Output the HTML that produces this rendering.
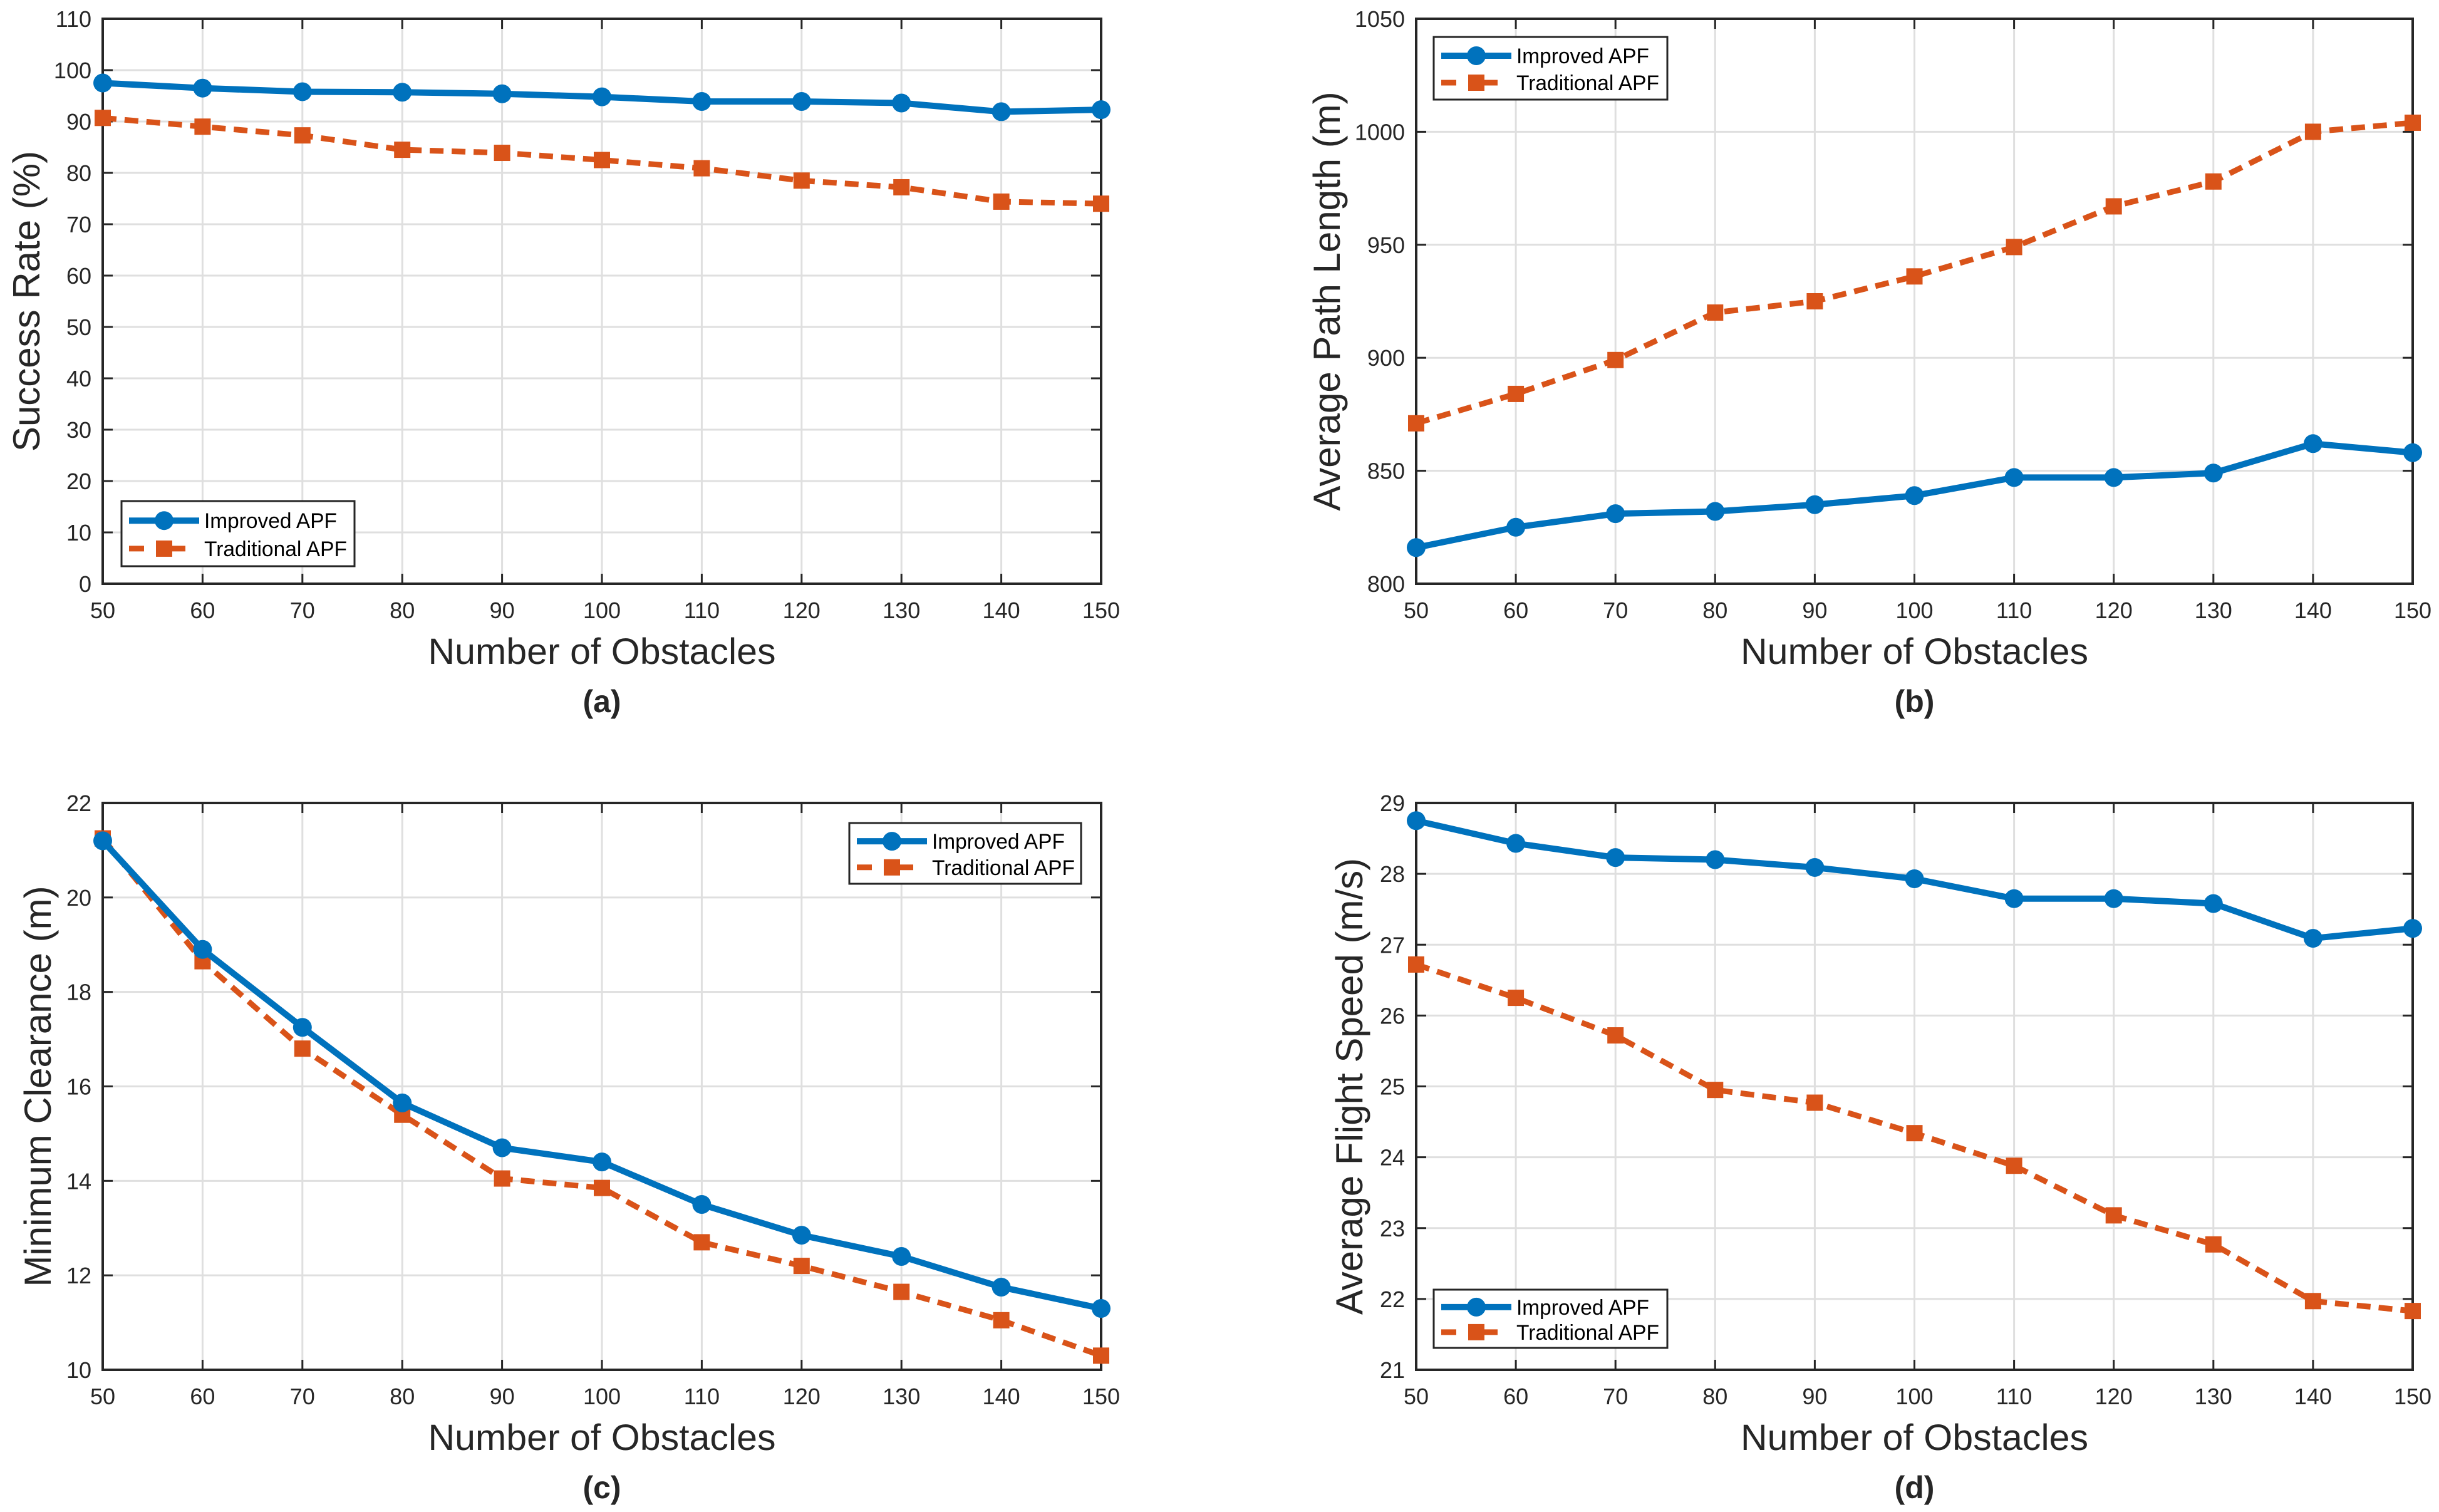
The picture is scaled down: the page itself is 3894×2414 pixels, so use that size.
<!DOCTYPE html>
<html><head><meta charset="utf-8"><style>
html,body{margin:0;padding:0;background:#fff;}
svg{display:block;font-family:"Liberation Sans",Arial,sans-serif;}
</style></head><body>
<svg id="fig" width="3894" height="2414" viewBox="0 0 3894 2414" xmlns="http://www.w3.org/2000/svg"></svg>
<script>
const categories = [50,60,70,80,90,100,110,120,130,140,150];
const seriesNames = ["Improved APF","Traditional APF"];
const aImproved = [97.5,96.5,95.8,95.7,95.4,94.8,93.9,93.9,93.6,91.9,92.3];
const aTraditional = [90.7,89.0,87.3,84.5,83.9,82.5,80.9,78.5,77.2,74.4,74.0];
const aTicks = [0,10,20,30,40,50,60,70,80,90,100,110];
const bImproved = [816,825,831,832,835,839,847,847,849,862,858];
const bTraditional = [871,884,899,920,925,936,949,967,978,1000,1004];
const bTicks = [800,850,900,950,1000,1050];
const cImproved = [21.2,18.9,17.25,15.65,14.7,14.4,13.5,12.85,12.4,11.75,11.3];
const cTraditional = [21.25,18.65,16.8,15.4,14.05,13.85,12.7,12.2,11.65,11.05,10.3];
const cTicks = [10,12,14,16,18,20,22];
const dImproved = [28.75,28.43,28.23,28.2,28.09,27.93,27.65,27.65,27.58,27.09,27.23];
const dTraditional = [26.72,26.25,25.72,24.95,24.77,24.34,23.88,23.18,22.77,21.97,21.83];
const dTicks = [21,22,23,24,25,26,27,28,29];

const NS="http://www.w3.org/2000/svg";
const svg=document.getElementById('fig');
function mk(tag,attrs,parent){const e=document.createElementNS(NS,tag);for(const k in attrs)e.setAttribute(k,attrs[k]);(parent||svg).appendChild(e);return e;}
const BLUE="#0072bd", ORANGE="#d95319", AX="#262626";

const panels=[
 {id:'a',L:164,R:1758,T:30,B:932,imp:aImproved,tra:aTraditional,ticks:aTicks,ylabel:'Success Rate (%)',yt:42,leg:[194,800,566,904]},
 {id:'b',L:2261,R:3852,T:30,B:932,imp:bImproved,tra:bTraditional,ticks:bTicks,ylabel:'Average Path Length (m)',yt:2118,leg:[2289,59,2662,159]},
 {id:'c',L:164,R:1758,T:1282,B:2187,imp:cImproved,tra:cTraditional,ticks:cTicks,ylabel:'Minimum Clearance (m)',yt:60,leg:[1356,1314,1726,1411]},
 {id:'d',L:2261,R:3852,T:1282,B:2187,imp:dImproved,tra:dTraditional,ticks:dTicks,ylabel:'Average Flight Speed (m/s)',yt:2154,leg:[2289,2059,2662,2152]}
];

panels.forEach(p=>{
 const g=mk('g',{});
 
 
 const ymin=p.ticks[0], ymax=p.ticks[p.ticks.length-1];
 const xs=v=>p.L+(v-categories[0])/(categories[categories.length-1]-categories[0])*(p.R-p.L);
 const ys=v=>p.B-(v-ymin)/(ymax-ymin)*(p.B-p.T);
 categories.forEach(c=>{const l=mk('line',{x1:xs(c),x2:xs(c),y1:p.T,y2:p.B,stroke:'#dfdfdf','stroke-width':3},g);
  });
 p.ticks.forEach(t=>{const l=mk('line',{x1:p.L,x2:p.R,y1:ys(t),y2:ys(t),stroke:'#dfdfdf','stroke-width':3},g);
  });
 categories.forEach(c=>{
  mk('line',{x1:xs(c),x2:xs(c),y1:p.B,y2:p.B-16,stroke:AX,'stroke-width':3},g);
  mk('line',{x1:xs(c),x2:xs(c),y1:p.T,y2:p.T+16,stroke:AX,'stroke-width':3},g);
  const t=mk('text',{x:xs(c),y:p.B+55,'font-size':36,'text-anchor':'middle',fill:AX},g);
  t.textContent=c;
 });
 p.ticks.forEach(v=>{
  mk('line',{x1:p.L,x2:p.L+16,y1:ys(v),y2:ys(v),stroke:AX,'stroke-width':3},g);
  mk('line',{x1:p.R,x2:p.R-16,y1:ys(v),y2:ys(v),stroke:AX,'stroke-width':3},g);
  const t=mk('text',{x:p.L-18,y:ys(v)+13,'font-size':36,'text-anchor':'end',fill:AX},g);
  t.textContent=v;
 });
 const box=mk('rect',{x:p.L,y:p.T,width:p.R-p.L,height:p.B-p.T,fill:'none',stroke:AX,'stroke-width':4},g);
 
 const ptsT=p.tra.map((v,i)=>xs(categories[i])+','+ys(v)).join(' ');
 const lt=mk('polyline',{points:ptsT,fill:'none',stroke:ORANGE,'stroke-width':9,'stroke-dasharray':'22,13'},g);
 
 p.tra.forEach((v,i)=>{const r=mk('rect',{x:xs(categories[i])-13,y:ys(v)-13,width:26,height:26,fill:ORANGE},g);
  });
 const ptsI=p.imp.map((v,i)=>xs(categories[i])+','+ys(v)).join(' ');
 const li=mk('polyline',{points:ptsI,fill:'none',stroke:BLUE,'stroke-width':10},g);
 
 p.imp.forEach((v,i)=>{const c=mk('circle',{cx:xs(categories[i]),cy:ys(v),r:15,fill:BLUE},g);
  });
 const xt=mk('text',{x:(p.L+p.R)/2,y:p.B+128,'font-size':58,'text-anchor':'middle',fill:AX,textLength:555,lengthAdjust:'spacingAndGlyphs'},g);
 xt.textContent='Number of Obstacles';
 const pl=mk('text',{x:(p.L+p.R)/2,y:p.B+205,'font-size':50,'font-weight':'bold','text-anchor':'middle',fill:AX},g);
 pl.textContent='('+p.id+')';
 const cy=(p.T+p.B)/2;
 const yt=mk('text',{x:p.yt,y:cy,'font-size':60,'text-anchor':'middle',fill:AX,transform:`rotate(-90 ${p.yt} ${cy})`,dy:21},g);
 yt.textContent=p.ylabel;
 const [x1,y1,x2,y2]=p.leg;
 const lg=mk('g',{},g);
 
 mk('rect',{x:x1,y:y1,width:x2-x1,height:y2-y1,fill:'#fff',stroke:AX,'stroke-width':3},lg);
 const r1=y1+(y2-y1)*0.3, r2=y1+(y2-y1)*0.73;
 mk('line',{x1:x1+12,x2:x1+124,y1:r1,y2:r1,stroke:BLUE,'stroke-width':10},lg);
 mk('circle',{cx:x1+68,cy:r1,r:15,fill:BLUE},lg);
 mk('line',{x1:x1+12,x2:x1+124,y1:r2,y2:r2,stroke:ORANGE,'stroke-width':9,'stroke-dasharray':'24,42'},lg);
 mk('rect',{x:x1+55,y:r2-13,width:26,height:26,fill:ORANGE},lg);
 const e1=mk('text',{x:x1+132,y:r1+12,'font-size':34,fill:'#000',textLength:212,lengthAdjust:'spacingAndGlyphs'},lg);
 e1.textContent=seriesNames[0];
 const e2=mk('text',{x:x1+132,y:r2+12,'font-size':34,fill:'#000',textLength:228,lengthAdjust:'spacingAndGlyphs'},lg);
 e2.textContent=seriesNames[1];
});
</script>
</body></html>
